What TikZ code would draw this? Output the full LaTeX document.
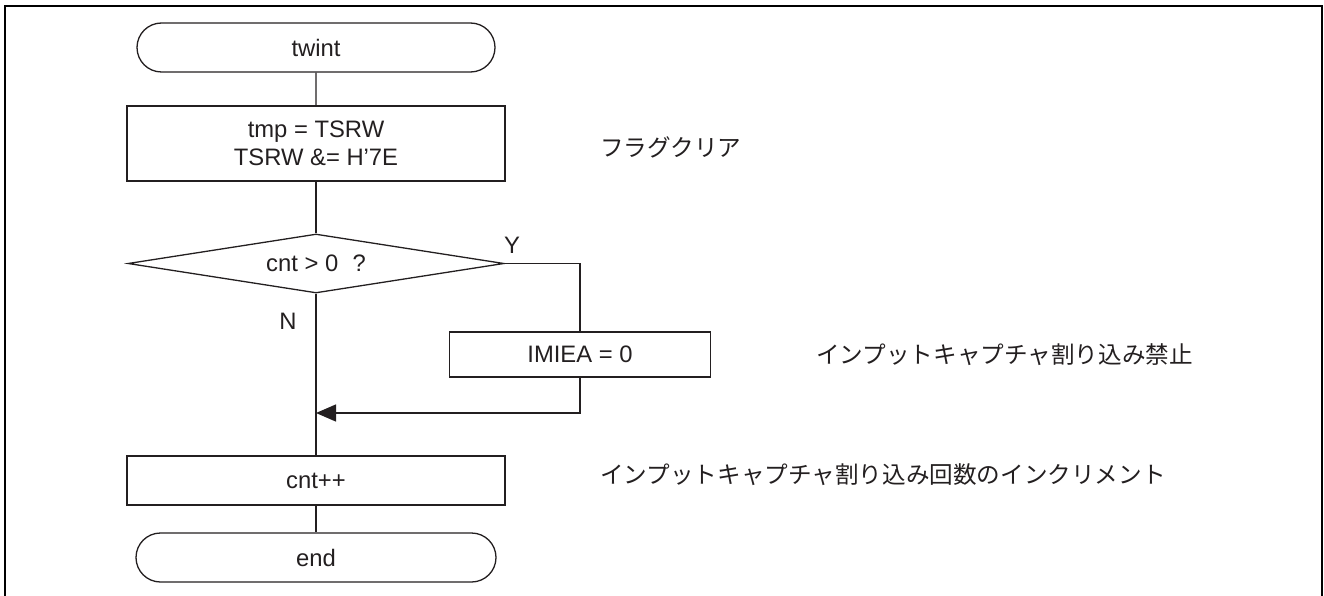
\documentclass[tikz,border=0pt]{standalone}
\usepackage{fontspec}
\setmainfont{Liberation Sans}
\newfontfamily\jp{Noto Sans CJK JP}
\usetikzlibrary{shapes.geometric,shapes.misc,arrows.meta}
\definecolor{ink}{HTML}{231F20}
\begin{document}
\begin{tikzpicture}[x=1pt,y=-1pt,
  every node/.style={text=ink},
  line/.style={draw=ink,line width=1.3pt},
  lat/.style={font=\fontsize{23.8}{28}\selectfont},
  term/.style={line,lat,rounded rectangle,minimum width=358pt,minimum height=49pt,inner sep=0pt},
  proc/.style={line,lat,rectangle,minimum width=378pt,inner sep=0pt,align=center},
  dec/.style={line,lat,diamond,shape aspect=6,minimum width=376pt,minimum height=59pt,inner sep=0pt},
  lbl/.style={lat,inner sep=0pt},
  note/.style={font=\jp\fontsize{23.6}{28}\selectfont,anchor=west,inner sep=0pt}]
\useasboundingbox (0,0) rectangle (1324,596);
\draw[draw=black,line width=2.6pt] (5,596) -- (5,6) -- (1322,6) -- (1322,596);
\node[term] (start) at (316,47.5) {twint};
\node[proc,minimum height=75pt] (init) at (316,143.5) {tmp = TSRW\\TSRW \&= H'7E};
\node[dec] (cond) at (316,263.5) {cnt > 0\hspace{0.6em}?};
\node[proc,minimum width=261pt,minimum height=45pt] (dis) at (580,354.5) {IMIEA = 0};
\node[proc,minimum height=49pt] (inc) at (316,480.5) {cnt++};
\node[term,minimum width=360pt] (stop) at (316,557.5) {end};
\node[lbl] (ylab) at (512,245) {Y};
\node[lbl] (nlab) at (288,321) {N};
\coordinate (corner1) at (580,263.5);
\coordinate (corner2) at (580,413);
\coordinate (merge) at (316,413);
\draw[line] (start) -- (init);
\draw[line] (init) -- (cond);
\draw[line] (cond) -- (inc);
\draw[line] (inc) -- (stop);
\draw[line] (cond.east) -- (corner1) -- (dis.north);
\draw[line,-{Triangle[length=20pt,width=17pt]}] (dis.south) -- (corner2) -- (merge);
\node[note] (n1) at (600,147) {フラグクリア};
\node[note] (n2) at (816,355) {インプットキャプチャ割り込み禁止};
\node[note] (n3) at (600,475) {インプットキャプチャ割り込み回数のインクリメント};
\end{tikzpicture}
\end{document}
